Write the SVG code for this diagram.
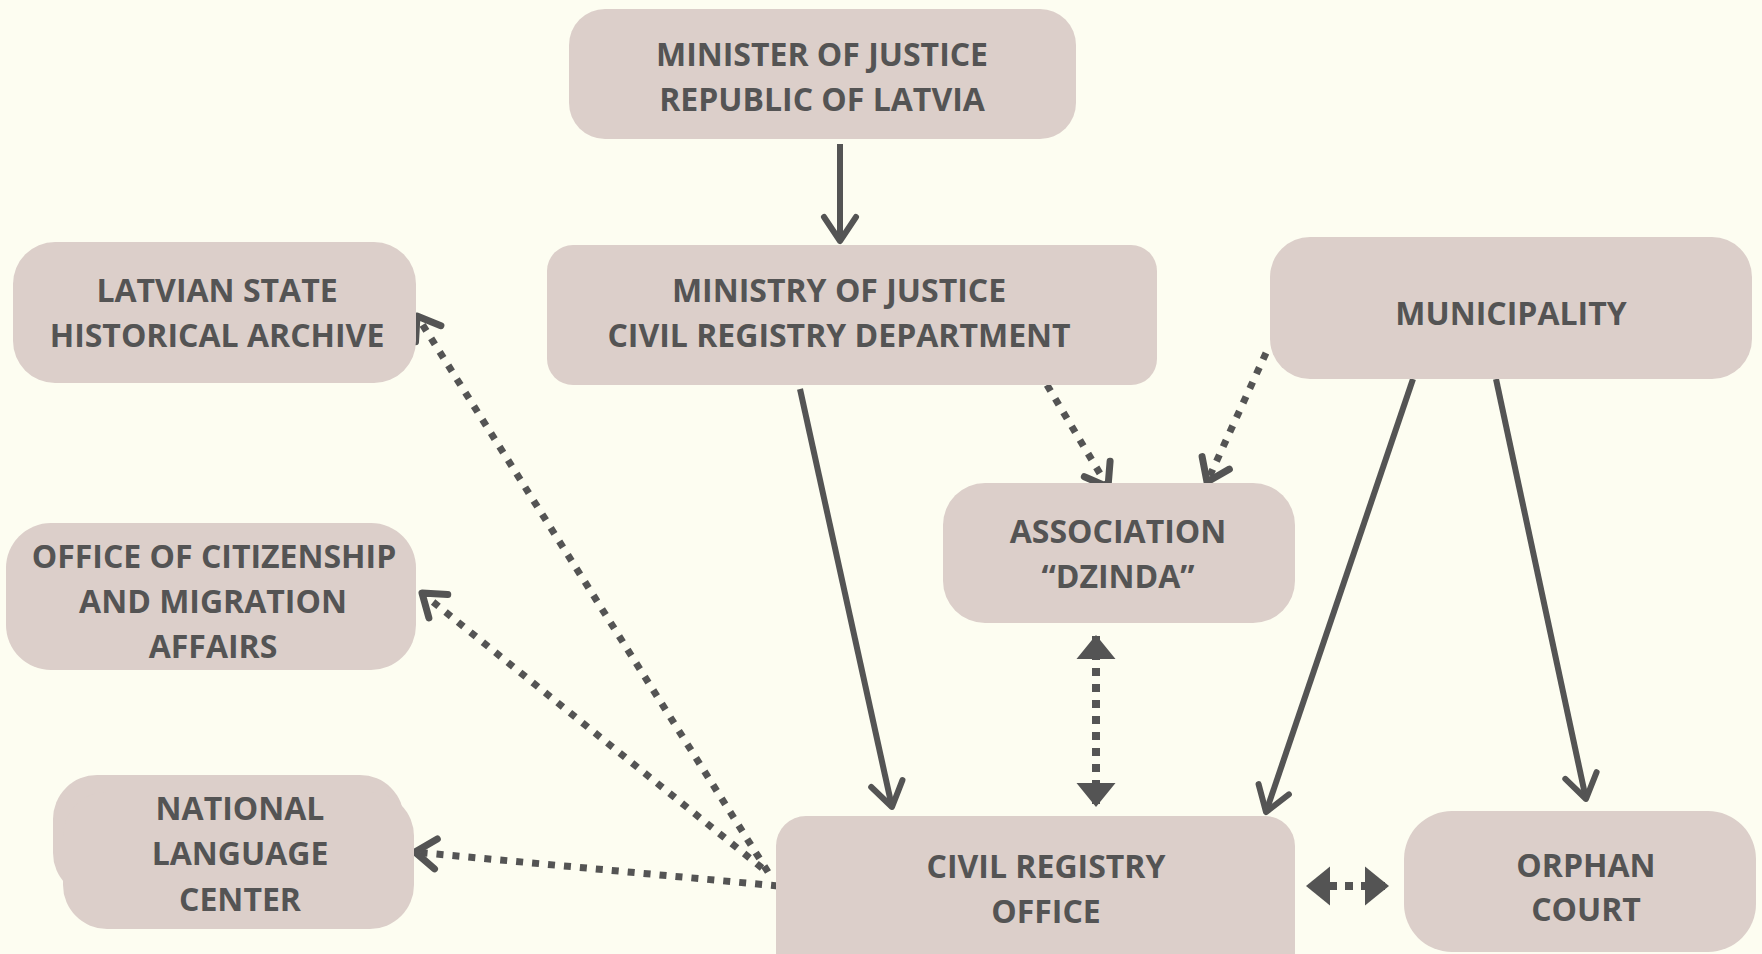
<svg xmlns="http://www.w3.org/2000/svg" width="1762" height="954" viewBox="0 0 1762 954">
<defs>
<style>
.box{fill:#dccfca}
.t{font-family:"Open Sans","Liberation Sans",sans-serif;font-weight:700;font-size:32px;fill:#545454;text-anchor:middle}
.solid{stroke:#545454;stroke-width:6;fill:none}
.dot{stroke:#545454;stroke-width:7;fill:none;stroke-dasharray:7 9}
.dash2{stroke:#545454;stroke-width:8;fill:none;stroke-dasharray:8 8}
</style>
<marker id="chevS" markerUnits="userSpaceOnUse" viewBox="-40 -30 50 60" refX="0" refY="0" markerWidth="50" markerHeight="60" orient="auto">
<path d="M-24,-16 L0,0 L-24,16" fill="none" stroke="#545454" stroke-width="6" stroke-linecap="round" stroke-linejoin="round"/>
</marker>
<marker id="chevD" markerUnits="userSpaceOnUse" viewBox="-40 -30 50 60" refX="0" refY="0" markerWidth="50" markerHeight="60" orient="auto">
<path d="M-21,-15 L0,0 L-21,15" fill="none" stroke="#545454" stroke-width="7" stroke-linecap="round" stroke-linejoin="round"/>
</marker>
<marker id="tri" markerUnits="userSpaceOnUse" viewBox="-30 -25 35 50" refX="0" refY="0" markerWidth="35" markerHeight="50" orient="auto-start-reverse">
<path d="M0,0 L-24,-19.5 L-24,19.5 Z" fill="#545454"/>
</marker>
</defs>
<rect x="0" y="0" width="1762" height="954" fill="#fdfdf1"/>

<g id="connectors">
<line class="solid" x1="840" y1="144" x2="840" y2="241" marker-end="url(#chevS)"/>
<line class="solid" x1="800" y1="389" x2="892" y2="807" marker-end="url(#chevS)"/>
<line class="solid" x1="1413" y1="379" x2="1266" y2="812" marker-end="url(#chevS)"/>
<line class="solid" x1="1496" y1="379" x2="1586" y2="799" marker-end="url(#chevS)"/>
<line class="dot" x1="1047" y1="385" x2="1108" y2="487" marker-end="url(#chevD)"/>
<line class="dot" x1="1266" y1="353" x2="1207" y2="482" marker-end="url(#chevD)"/>
<line class="dot" x1="768" y1="872" x2="417" y2="316" marker-end="url(#chevD)"/>
<line class="dot" x1="762" y1="868" x2="422" y2="593" marker-end="url(#chevD)"/>
<line class="dot" x1="778" y1="886" x2="415" y2="852" marker-end="url(#chevD)"/>
<line class="dash2" x1="1096" y1="635" x2="1096" y2="807" stroke-dashoffset="15" marker-start="url(#tri)" marker-end="url(#tri)"/>
<line class="dash2" x1="1306" y1="886" x2="1389" y2="886" stroke-dashoffset="9" marker-start="url(#tri)" marker-end="url(#tri)"/>
</g>

<g id="minister">
<rect class="box" x="569" y="9" width="507" height="130" rx="36"/>
<text class="t" x="822" y="66">MINISTER OF JUSTICE</text>
<text class="t" x="822" y="111">REPUBLIC OF LATVIA</text>
</g>
<g id="ministry">
<rect class="box" x="547" y="245" width="610" height="140" rx="26"/>
<text class="t" x="839" y="302">MINISTRY OF JUSTICE</text>
<text class="t" x="839" y="347">CIVIL REGISTRY DEPARTMENT</text>
</g>
<g id="archive">
<rect class="box" x="13" y="242" width="403" height="141" rx="42"/>
<text class="t" x="217" y="302">LATVIAN STATE</text>
<text class="t" x="217" y="347">HISTORICAL ARCHIVE</text>
</g>
<g id="municipality">
<rect class="box" x="1270" y="237" width="482" height="142" rx="40"/>
<text class="t" x="1511" y="325">MUNICIPALITY</text>
</g>
<g id="citizenship">
<rect class="box" x="6" y="523" width="410" height="147" rx="45"/>
<text class="t" x="214" y="568">OFFICE OF CITIZENSHIP</text>
<text class="t" x="213" y="613">AND MIGRATION</text>
<text class="t" x="213" y="658">AFFAIRS</text>
</g>
<g id="association">
<rect class="box" x="943" y="483" width="352" height="140" rx="42"/>
<text class="t" x="1118" y="543">ASSOCIATION</text>
<text class="t" x="1118" y="588">“DZINDA”</text>
</g>
<g id="language">
<rect class="box" x="53" y="775" width="351" height="122" rx="44"/>
<rect class="box" x="63" y="792" width="351" height="137" rx="44"/>
<text class="t" x="240" y="820">NATIONAL</text>
<text class="t" x="240" y="865">LANGUAGE</text>
<text class="t" x="240" y="911">CENTER</text>
</g>
<g id="civil-registry">
<rect class="box" x="776" y="816" width="519" height="170" rx="30"/>
<text class="t" x="1046" y="878">CIVIL REGISTRY</text>
<text class="t" x="1046" y="923">OFFICE</text>
</g>
<g id="orphan">
<rect class="box" x="1404" y="811" width="352" height="141" rx="48"/>
<text class="t" x="1586" y="877">ORPHAN</text>
<text class="t" x="1586" y="921">COURT</text>
</g>
</svg>
